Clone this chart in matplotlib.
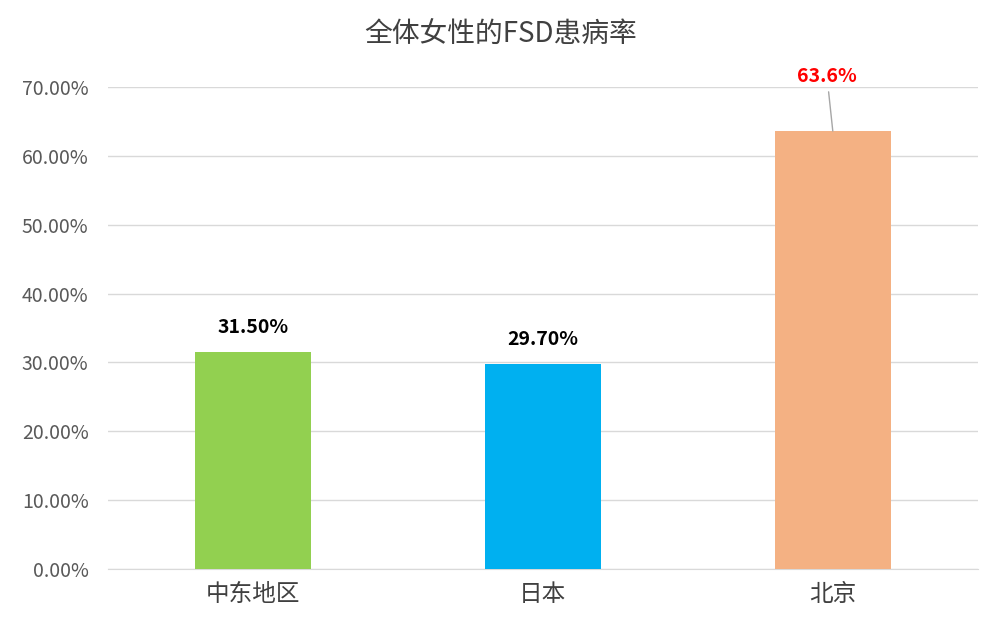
import matplotlib
matplotlib.use("Agg")
import matplotlib.pyplot as plt
from matplotlib.ticker import FuncFormatter

categories = ["中东地区", "日本", "北京"]
values = [0.315, 0.297, 0.636]
labels = ["31.50%", "29.70%", "63.6%"]
colors = ["#92D050", "#00B0F0", "#F4B183"]
label_colors = ["black", "black", "red"]

plt.rcParams['font.family'] = ['Noto Sans CJK SC', 'DejaVu Sans']
fig = plt.figure(figsize=(10.02, 6.41), dpi=100)
ax = fig.add_axes([0.1078, 0.1123, 0.868, 0.752])
x = range(len(categories))
ax.bar(x, values, width=0.40, color=colors, zorder=3)
ax.set_xlim(-0.5, 2.5)
ax.set_ylim(0, 0.7)
ax.set_yticks([i/10 for i in range(8)])
ax.yaxis.set_major_formatter(FuncFormatter(lambda v, p: f"{v*100:.2f}%"))
ax.grid(axis='y', color='#d9d9d9', lw=1, zorder=0)
for s in ['top', 'right', 'left']:
    ax.spines[s].set_visible(False)
ax.spines['bottom'].set_color('#d9d9d9')
ax.tick_params(axis='both', length=0, colors='#595959')
ax.tick_params(axis='y', labelsize=14, pad=14)
ax.set_xticks(list(x))
ax.set_xticklabels(categories, fontsize=17, color='#404040')
ax.tick_params(axis='x', pad=10)
for i, (v, l, c) in enumerate(zip(values, labels, label_colors)):
    if i == 2:
        ax.annotate(l, xy=(i, v), xytext=(i - 0.02, 0.701), ha='center', va='bottom',
                    fontsize=14, color=c, fontweight='bold',
                    arrowprops=dict(arrowstyle='-', color='#a6a6a6', lw=1, shrinkA=2, shrinkB=0),
                    annotation_clip=False)
    else:
        ax.text(i, v + 0.022, l, ha='center', va='bottom', fontsize=14, color=c, fontweight='bold')
fig.text(0.5, 0.945, "全体女性的FSD患病率", ha='center', va='center', fontsize=20, color='#404040')
fig.savefig("out.png", dpi=100)
